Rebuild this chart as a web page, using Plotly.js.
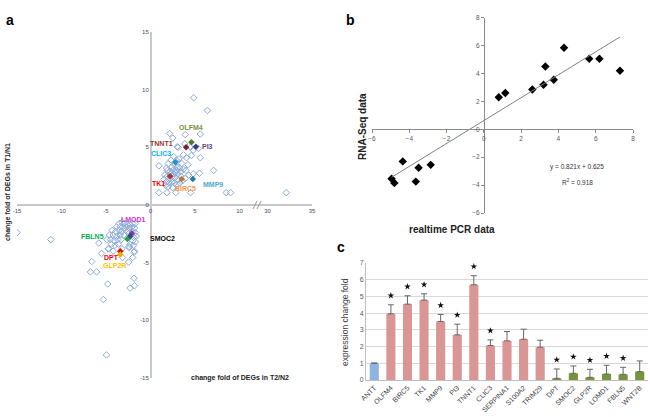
<!DOCTYPE html>
<html><head><meta charset="utf-8">
<script src="https://cdn.plot.ly/plotly-3.0.1.min.js"></script>
<style>html,body{margin:0;padding:0;background:#fff}#plot{width:650px;height:417px}</style>
</head><body><div id="plot"></div>
<script>
// ---------- Panel a data (change fold T2/N2 vs T1/N1) ----------
const aUpX = [4.85,6.4,2.15,2.5,3.9,5.6,3.0,3.85,3.1,4.5,4.8,5.4,4.6,5.6,3.7,4.05,0.95,7.1,5.5,
  0.95,1.85,2.85,4.5,8.5,9.0,32.1,
  2.0,2.3,2.6,2.9,3.2,3.5,2.4,2.7,3.0,3.3,1.9,2.2,2.5,2.8,3.1,3.4,3.7,1.6,1.9,2.2,2.5,2.8,3.1,3.4,
  1.5,1.8,2.1,2.4,2.7,3.0,3.3,2.0,2.5,4.0,4.3,4.8,1.8,2.6,3.6,2.3,1.7,4.2,2.9,3.9];
const aUpY = [9.3,8.2,6.2,5.8,6.1,6.15,5.05,5.3,5.0,5.0,4.75,4.9,4.3,4.1,4.35,4.1,3.4,3.0,2.75,
  1.07,1.07,1.07,1.07,1.07,1.07,1.07,
  3.6,3.9,4.2,3.9,4.0,3.6,3.3,3.5,3.3,3.2,3.0,2.9,3.0,2.8,2.7,2.9,3.1,2.6,2.5,2.3,2.5,2.4,2.2,2.5,
  2.2,2.0,1.9,2.0,1.9,1.8,1.9,1.6,1.5,3.0,2.6,2.7,3.2,2.7,2.1,2.7,1.7,3.5,3.0,2.3];
const aLoX = [-11.2,-5.8,-5.5,-6.6,-6.75,-6.05,-4.8,-5.3,-4.95,-1.85,-1.8,-2.3,-3.15,-2.45,-2.0,-1.85,-2.4,-4.75,-15.0,
  -3.5,-3.2,-2.9,-2.6,-2.3,-2.0,-1.7,-3.8,-3.4,-3.0,-2.7,-2.4,-2.1,-1.8,-4.3,-3.9,-3.5,-3.2,-2.8,-2.5,-2.0,-1.7,
  -4.6,-4.2,-3.8,-3.4,-3.0,-2.2,-1.9,-1.6,-4.9,-4.5,-4.1,-3.7,-3.3,-2.0,-1.7,-4.4,-4.0,-3.6,-2.3,-1.9,-4.7,-3.2,-2.4,-1.8,-4.2];
const aLoY = [-3.0,-3.3,-4.2,-4.9,-5.8,-5.8,-6.85,-8.2,-13.0,-6.35,-7.0,-7.2,-4.55,-4.95,-4.55,-4.1,-3.6,-3.8,-2.4,
  -1.6,-1.5,-1.6,-1.7,-1.7,-1.6,-1.6,-1.9,-1.9,-2.0,-1.9,-2.0,-1.9,-2.0,-2.2,-2.3,-2.2,-2.3,-2.2,-2.3,-2.3,-2.4,
  -2.6,-2.6,-2.7,-2.6,-2.6,-2.6,-2.8,-2.7,-3.0,-3.0,-3.1,-3.0,-3.0,-3.1,-3.2,-3.4,-3.5,-3.4,-3.4,-3.5,-3.8,-3.8,-3.7,-4.0,-4.0];
const geneNames  = ['OLFM4','TNNT1','PI3','CLIC3','TK1','BIRC5','MMP9','LMOD1','SMOC2','FBLN5','DPT','GLP2R'];
const geneX      = [4.6,4.0,5.1,2.8,2.2,3.5,4.75,-2.1,-2.3,-2.6,-3.4,-3.4];
const geneY      = [5.45,5.0,5.05,3.7,2.5,2.25,2.25,-2.45,-2.7,-2.95,-4.0,-4.3];
const geneTextColors = ['#77933c','#953735','#604a7b','#00b0f0','#ff0000','#f79646','#4bacc6','#cc33cc','#000000','#00b050','#ff0000','#ffc000'];
const genePointColors = ['#4f7a28','#7a1f2b','#3b3a8a','#1f8fd0','#b0303a','#c07830','#2a7aa0','#8a3aa0','#2a4a8a','#2a9a50','#e00000','#e0b000'];
const aXTickVals = [-15,-10,-5,0,5,10,30,35];
const aYTickVals = [-15,-10,-5,0,5,10,15];

// ---------- Panel b data ----------
const pcrX = [-4.95,-4.8,-4.35,-3.65,-3.5,-2.85,0.8,1.15,2.6,3.2,3.3,3.75,4.3,5.65,6.2,7.3];
const seqY = [-3.55,-3.85,-2.3,-3.75,-2.75,-2.55,2.3,2.6,2.85,3.2,4.5,3.55,5.85,5.05,5.05,4.2];
const slope = 0.821, intercept = 0.625, r2 = 0.918;

// ---------- Panel c data ----------
const cCats = ['ANTT','OLFM4','BIRC5','TK1','MMP9','PI3','TNNT1','CLIC3','SERPINA1','S100A2','TRIM29','DPT','SMOC2','GLP2R','LOMD1','FBLN5','WNT2B'];
const cVals = [1.0,3.96,4.54,4.78,3.5,2.7,5.7,2.06,2.34,2.44,1.96,0.1,0.4,0.16,0.36,0.34,0.5];
const cErr  = [0.02,0.54,0.5,0.38,0.42,0.64,0.54,0.34,0.56,0.6,0.42,0.56,0.44,0.48,0.52,0.42,0.64];
const cSig  = [false,true,true,true,true,true,true,true,false,false,false,true,true,true,true,true,false];
const cGroup = ['ctrl','up','up','up','up','up','up','up','up','up','up','down','down','down','down','down','down'];

// ---------- styling / helpers ----------
const W = 650, H = 417;
const fx = p => p / W, fy = p => 1 - p / H;
const FONT = 'Liberation Sans, Arial, sans-serif';
// broken x-axis in panel a: values beyond the break are shifted left
const BREAK_AT = 20, BREAK_SHIFT = 16.85;
const disp = v => v > BREAK_AT ? v - BREAK_SHIFT : v;
const groupColor = {ctrl:'#8db3e2', up:'#d99694', down:'#77933c'};

const traces = [];
traces.push({x: aUpX.map(disp), y: aUpY, xaxis:'x', yaxis:'y', type:'scatter', mode:'markers',
  marker:{symbol:'diamond-open', size:5, color:'#8aaad8', line:{width:1}}, hoverinfo:'skip'});
traces.push({x: aLoX.map(disp), y: aLoY, xaxis:'x', yaxis:'y', type:'scatter', mode:'markers',
  marker:{symbol:'diamond-open', size:5, color:'#8aaad8', line:{width:1}}, hoverinfo:'skip'});
traces.push({x: geneX.map(disp), y: geneY, xaxis:'x', yaxis:'y', type:'scatter', mode:'markers',
  marker:{symbol:'diamond', size:5, color: genePointColors}, hoverinfo:'skip'});

traces.push({x: pcrX, y: seqY, xaxis:'x2', yaxis:'y2', type:'scatter', mode:'markers',
  marker:{symbol:'diamond', size:6.5, color:'#000'}, hoverinfo:'skip'});
const xmin = Math.min(...pcrX), xmax = Math.max(...pcrX);
traces.push({x:[xmin,xmax], y:[slope*xmin+intercept, slope*xmax+intercept], xaxis:'x2', yaxis:'y2',
  type:'scatter', mode:'lines', line:{color:'#808080', width:1}, hoverinfo:'skip'});

traces.push({x: cCats, y: cVals, xaxis:'x3', yaxis:'y3', type:'bar',
  marker:{color: cGroup.map(g => groupColor[g])},
  error_y:{type:'data', symmetric:false, array:cErr, arrayminus:cErr.map(()=>0), color:'#666', thickness:1, width:3},
  hoverinfo:'skip'});
const sigX = [], sigY = [];
cCats.forEach((c,i) => { if (cSig[i]) { sigX.push(c); sigY.push(cVals[i] + cErr[i] + 0.55); } });
traces.push({x: sigX, y: sigY, xaxis:'x3', yaxis:'y3', type:'scatter', mode:'markers',
  marker:{symbol:'star', size:5, color:'#111'}, hoverinfo:'skip'});

// gene labels: offsets in pixels (styling)
const labelShift = {OLFM4:[0,15], TNNT1:[-25,4], PI3:[12,0], CLIC3:[-14,9], TK1:[-12,-7], BIRC5:[4,-9],
  MMP9:[20,-5], LMOD1:[2,14], SMOC2:[32,-2], FBLN5:[-35,3], DPT:[-9,-6], GLP2R:[-6,-11]};
const annotations = geneNames.map((g,i) => ({xref:'x', yref:'y', x: disp(geneX[i]), y: geneY[i], text:g,
  showarrow:false, xshift: labelShift[g][0], yshift: labelShift[g][1],
  font:{family:FONT, size:7, color:geneTextColors[i], weight:'bold'}}));

const rot = {textangle:-90, xanchor:'center', yanchor:'middle', showarrow:false};
annotations.push(
  {xref:'paper', yref:'paper', x:fx(4), y:fy(10), text:'<b>a</b>', showarrow:false, xanchor:'left', font:{family:FONT, size:14, color:'#000'}},
  {xref:'paper', yref:'paper', x:fx(344), y:fy(10), text:'<b>b</b>', showarrow:false, xanchor:'left', font:{family:FONT, size:14, color:'#000'}},
  {xref:'paper', yref:'paper', x:fx(335), y:fy(247), text:'<b>c</b>', showarrow:false, xanchor:'left', font:{family:FONT, size:14, color:'#000'}},
  {xref:'paper', yref:'paper', x:fx(240), y:fy(384), text:'<b>change fold of DEGs in T2/N2</b>', showarrow:false, font:{family:FONT, size:7, color:'#222'}},
  Object.assign({xref:'paper', yref:'paper', x:fx(8), y:fy(192), text:'<b>change fold of DEGs in T1/N1</b>', font:{family:FONT, size:7, color:'#222'}}, rot),
  Object.assign({xref:'paper', yref:'paper', x:fx(362), y:fy(127), text:'<b>RNA-Seq data</b>', font:{family:FONT, size:10, color:'#222'}}, rot),
  {xref:'paper', yref:'paper', x:fx(497), y:fy(229), text:'<b>realtime PCR data</b>', showarrow:false, font:{family:FONT, size:10, color:'#222'}},
  {xref:'x2', yref:'y2', x:5.0, y:-2.7, text:'y = ' + slope + 'x + ' + intercept, showarrow:false, font:{family:FONT, size:6.5, color:'#333'}},
  {xref:'x2', yref:'y2', x:5.0, y:-3.8, text:'R<sup>2</sup> = ' + r2, showarrow:false, font:{family:FONT, size:6.5, color:'#333'}},
  Object.assign({xref:'paper', yref:'paper', x:fx(345), y:fy(322), text:'expression change fold', font:{family:FONT, size:8.5, color:'#404040'}}, rot)
);

// axis break marks
const shapes = [
  {type:'line', xref:'paper', yref:'paper', x0:fx(253), y0:fy(209), x1:fx(257), y1:fy(201), line:{color:'#999', width:1}},
  {type:'line', xref:'paper', yref:'paper', x0:fx(257), y0:fy(209), x1:fx(261), y1:fy(201), line:{color:'#999', width:1}}
];

const tickFontA = {family:FONT, size:6, color:'#4a4a6a'};
const tickFontB = {family:FONT, size:6.5, color:'#595959'};
const layout = {
  width:W, height:H, margin:{l:0,r:0,t:0,b:0}, paper_bgcolor:'#fff', plot_bgcolor:'rgba(0,0,0,0)',
  showlegend:false, font:{family:FONT},
  xaxis:{domain:[fx(17), fx(312)], range:[-15, 35 - BREAK_SHIFT], anchor:'free', position:fy(205),
    showline:true, linecolor:'#c8c8c8', linewidth:2, showgrid:false, zeroline:false, ticks:'',
    tickvals:aXTickVals.map(disp), ticktext:aXTickVals.map(String), tickfont:tickFontA, fixedrange:true},
  yaxis:{domain:[fy(378), fy(32)], range:[-15,15], anchor:'free', position:fx(151),
    showline:true, linecolor:'#c8c8c8', linewidth:2, showgrid:false, zeroline:false, ticks:'',
    tickvals:aYTickVals, ticktext:aYTickVals.map(String), tickfont:tickFontA, fixedrange:true},
  xaxis2:{domain:[fx(372), fx(633)], range:[-6,8], anchor:'free', position:fy(129),
    showline:true, linecolor:'#8a8a8a', linewidth:1, showgrid:false, zeroline:false, dtick:2,
    ticks:'outside', ticklen:3, tickcolor:'#8a8a8a', tickfont:tickFontB, fixedrange:true},
  yaxis2:{domain:[fy(213), fy(17.7)], range:[-6,8], anchor:'free', position:fx(484),
    showline:true, linecolor:'#8a8a8a', linewidth:1, showgrid:false, zeroline:false, dtick:2,
    ticks:'outside', ticklen:3, tickcolor:'#8a8a8a', tickfont:tickFontB, fixedrange:true},
  xaxis3:{domain:[fx(366), fx(648)], range:[-0.5,16.5], anchor:'y3', type:'category',
    showline:true, linecolor:'#bfbfbf', linewidth:1, showgrid:false, zeroline:false, ticks:'',
    tickangle:-45, tickfont:{family:FONT, size:7, color:'#404040'}, fixedrange:true},
  yaxis3:{domain:[fy(380), fy(263)], range:[0,7], anchor:'x3', dtick:1,
    showline:true, linecolor:'#bfbfbf', linewidth:1, showgrid:true, gridcolor:'#d9d9d9', zeroline:false,
    ticks:'', tickfont:{family:FONT, size:7, color:'#595959'}, fixedrange:true},
  bargap:0.45,
  annotations, shapes
};
Plotly.newPlot('plot', traces, layout, {staticPlot:true, displayModeBar:false});
</script></body></html>
